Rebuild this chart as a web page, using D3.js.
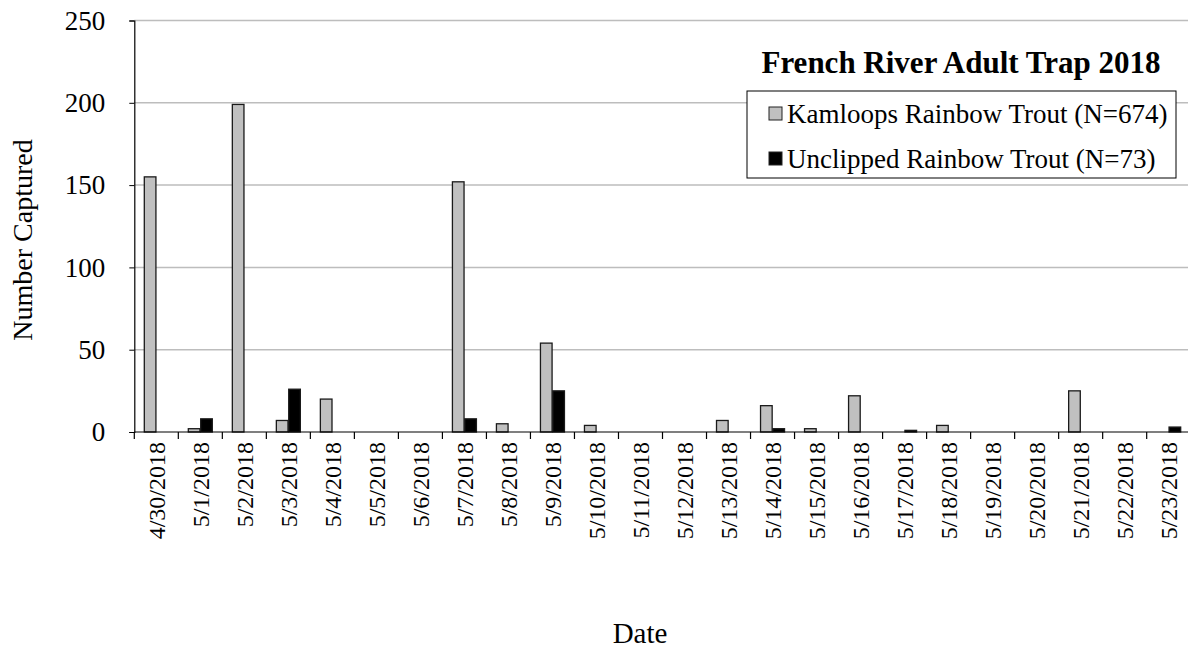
<!DOCTYPE html>
<html>
<head>
<meta charset="utf-8">
<script src="https://cdn.jsdelivr.net/npm/d3@7"></script>
<style>
  body { margin: 0; background: #fff; }
</style>
</head>
<body>
<svg width="1188" height="648"></svg>
<script>
// values
var dates = ["4/30/2018","5/1/2018","5/2/2018","5/3/2018","5/4/2018","5/5/2018","5/6/2018",
  "5/7/2018","5/8/2018","5/9/2018","5/10/2018","5/11/2018","5/12/2018","5/13/2018",
  "5/14/2018","5/15/2018","5/16/2018","5/17/2018","5/18/2018","5/19/2018","5/20/2018",
  "5/21/2018","5/22/2018","5/23/2018"];
var kamloops  = [155,2,199,7,20,0,0,152,5,54,4,0,0,7,16,2,22,0,4,0,0,25,0,0];
var unclipped = [0,8,0,26,0,0,0,8,0,25,0,0,0,0,2,0,0,1,0,0,0,0,0,3];
var seriesNames = ["Kamloops Rainbow Trout (N=674)", "Unclipped Rainbow Trout (N=73)"];
var yTicks = [0, 50, 100, 150, 200, 250];

var serif = "Liberation Serif";

var svg = d3.select("svg"),
    margin = {top: 20.5, left: 134.3},
    width = 1056.4,
    height = 411.5,
    g = svg.append("g").attr("transform", "translate(" + margin.left + "," + margin.top + ")");

var colors = ["#c0c0c0", "#000000"];
var keys = ["k", "u"];

var data = dates.map(function(d, i) {
  return {date: d, k: kamloops[i], u: unclipped[i]};
});

var x = d3.scaleBand().domain(dates).range([0, width]);
var x1 = d3.scaleBand().domain(keys).range([10, 34]).paddingInner(0.06);
var y = d3.scaleLinear().domain([0, 250]).range([height, 0]);
var z = d3.scaleOrdinal().domain(keys).range(colors);

// gridlines
g.append("g")
  .selectAll("line")
  .data(yTicks.filter(function(t) { return t > 0; }))
  .enter().append("line")
    .attr("x1", 0)
    .attr("x2", width)
    .attr("y1", function(d) { return y(d); })
    .attr("y2", function(d) { return y(d); })
    .attr("stroke", "#bdbdbd")
    .attr("stroke-width", 1.5);

// bars
g.append("g")
  .selectAll("g")
  .data(data)
  .enter().append("g")
    .attr("transform", function(d) { return "translate(" + x(d.date) + ",0)"; })
  .selectAll("rect")
  .data(function(d) {
    return keys.map(function(k) { return {key: k, value: d[k]}; })
      .filter(function(e) { return e.value > 0; });
  })
  .enter().append("rect")
    .attr("x", function(d) { return x1(d.key); })
    .attr("y", function(d) { return y(d.value); })
    .attr("width", x1.bandwidth())
    .attr("height", function(d) { return y(0) - y(d.value); })
    .attr("fill", function(d) { return z(d.key); })
    .attr("stroke", "#1a1a1a")
    .attr("stroke-width", 1.3);

// x axis, ticks between categories
var xAxis = g.append("g")
  .attr("transform", "translate(0," + height + ")");

xAxis.append("line")
  .attr("x1", 0).attr("x2", width)
  .attr("stroke", "#000").attr("stroke-width", 1.2);

xAxis.selectAll(".tick")
  .data(dates.concat(["end"]))
  .enter().append("line")
    .attr("x1", function(d, i) { return i * x.step(); })
    .attr("x2", function(d, i) { return i * x.step(); })
    .attr("y1", 0).attr("y2", 7)
    .attr("stroke", "#000").attr("stroke-width", 1.2);

xAxis.selectAll("text")
  .data(dates)
  .enter().append("text")
    .attr("transform", function(d) {
      return "translate(" + (x(d) + x.bandwidth() / 2) + ",10) rotate(-90)";
    })
    .attr("dy", "0.35em")
    .attr("text-anchor", "end")
    .attr("font-family", serif)
    .attr("font-size", 24)
    .attr("fill", "#000")
    .text(function(d) { return d; });

// y axis
var yAxis = g.append("g")
  .call(d3.axisLeft(y).tickValues(yTicks).tickSize(5).tickPadding(24));
yAxis.attr("font-family", serif).attr("font-size", 27);
yAxis.select(".domain").attr("stroke", "#000").attr("stroke-width", 1.2);
yAxis.selectAll(".tick line").attr("stroke", "#000");
yAxis.selectAll(".tick text")
  .attr("font-family", serif)
  .attr("font-size", 27)
  .attr("fill", "#000");

// axis titles
svg.append("text")
  .attr("transform", "translate(22,240) rotate(-90)")
  .attr("dy", "0.35em")
  .attr("text-anchor", "middle")
  .attr("font-family", serif)
  .attr("font-size", 28)
  .text("Number Captured");

svg.append("text")
  .attr("x", 640)
  .attr("y", 643)
  .attr("text-anchor", "middle")
  .attr("font-family", serif)
  .attr("font-size", 29)
  .text("Date");

// chart title
svg.append("text")
  .attr("x", 961)
  .attr("y", 73)
  .attr("text-anchor", "middle")
  .attr("font-family", serif)
  .attr("font-size", 31)
  .attr("font-weight", "bold")
  .text("French River Adult Trap 2018");

// legend
var legend = svg.append("g");
legend.append("rect")
  .attr("x", 747).attr("y", 91)
  .attr("width", 429).attr("height", 87)
  .attr("fill", "#fff")
  .attr("stroke", "#000")
  .attr("stroke-width", 1);

var items = legend.selectAll(".item")
  .data(keys)
  .enter().append("g")
    .attr("transform", function(d, i) { return "translate(769," + (107 + i * 45) + ")"; });

items.append("rect")
  .attr("width", 13).attr("height", 13)
  .attr("fill", z)
  .attr("stroke", "#222");

items.append("text")
  .attr("x", 18)
  .attr("y", 7)
  .attr("dy", "0.35em")
  .attr("font-family", serif)
  .attr("font-size", 27)
  .text(function(d, i) { return seriesNames[i]; });
</script>
</body>
</html>
